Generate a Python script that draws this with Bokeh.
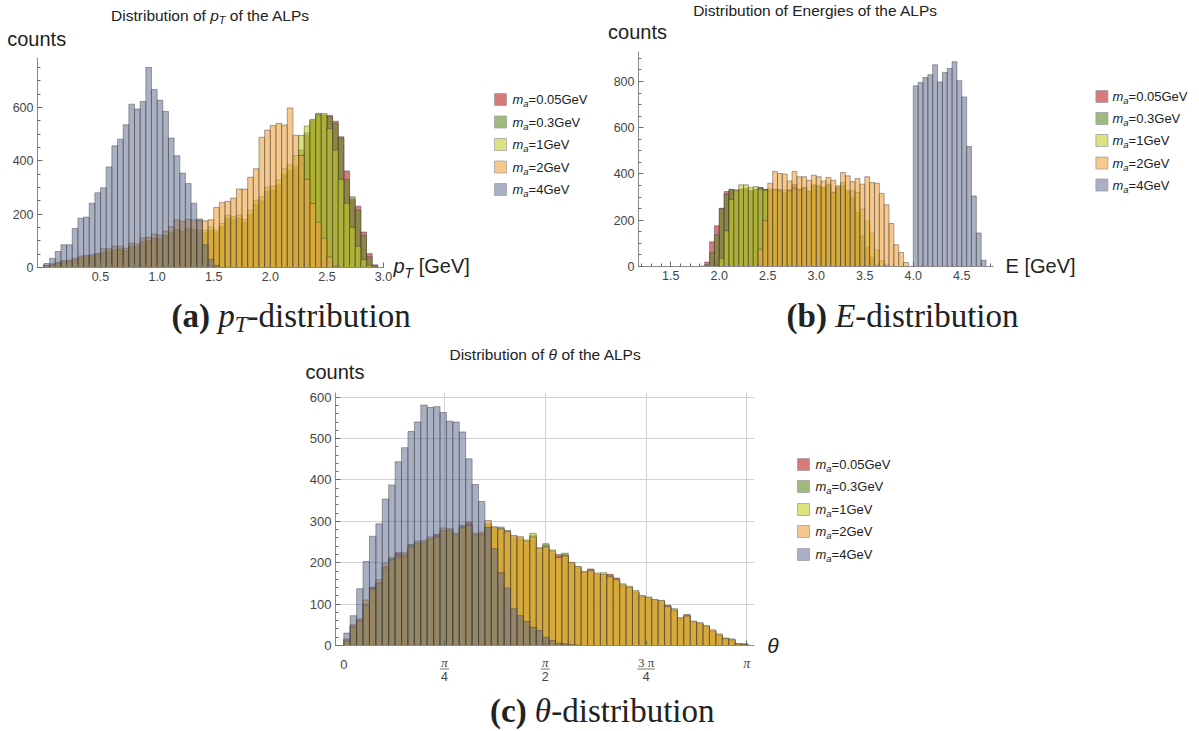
import numpy as np
from bokeh.plotting import figure
from bokeh.models import FixedTicker, Range1d, CustomJSTickFormatter, Spacer
from bokeh.core.properties import value
from bokeh.layouts import column, row
from bokeh.embed import file_html
from bokeh.resources import INLINE

SANS = "Liberation Sans"
SERIF = "Liberation Serif"
INK = "#222222"
TICK_INK = "#444444"

MASSES = ["0.05", "0.3", "1", "2", "4"]
COLORS = ["#BB2121", "#618C26", "#C5CF2B", "#F0A33F", "#556189"]
ALPHAS = [0.6, 0.6, 0.6, 0.6, 0.5]
BIN = 0.05

# ---------------- panel (a): pT, bins of 0.05 from 0 ----------------
A_START = 0.0
A_RED = [4,9,14,19,21,27,33,38,41,46,53,57,62,66,60,77,75,92,97,106,104,116,128,138,133,141,138,135,
         128,138,130,152,182,178,182,168,197,235,245,280,288,305,345,360,372,420,495,548,570,570,570,548,490,362,255,230,133,52,10,0]
A_GREEN = [5,9,15,20,22,27,34,39,42,47,54,58,64,67,61,79,76,94,98,108,106,118,130,140,135,143,140,137,
           130,140,132,155,185,180,186,170,200,238,250,285,290,310,350,365,380,440,505,552,578,572,566,540,485,330,265,215,120,40,6,0]
A_YELLOW = [6,10,16,21,23,29,36,41,43,49,56,61,66,70,63,81,79,96,101,111,109,121,132,142,137,146,142,140,
            140,152,140,165,196,190,196,180,214,252,265,302,305,328,370,385,420,495,530,555,572,577,520,440,330,240,150,80,30,8,0,0]
A_ORANGE = [8,14,20,26,27,34,43,46,48,53,70,70,80,80,72,91,88,111,113,125,121,136,153,178,173,180,178,176,
            175,179,225,244,248,260,294,294,338,370,488,515,532,540,534,598,496,420,330,240,170,110,40,5,0,0,0,0,0,0,0,0]
A_GRAY = [15,34,60,85,85,146,185,189,241,280,299,377,456,481,535,612,594,622,750,667,627,585,485,419,354,315,241,182,
          85,31,8] + [0] * 29

# ---------------- panel (b): E, bins of 0.05 from 1.80 ----------------
B_START = 1.80
B_RED = [2,19,107,176,252,324,333,330,332,338,325,335,340,332,330,335,328,320,332,355,330,340,325,350,345,340,352,322,340,350,
         325,300,236,133,80,38,8] + [0] * 22
B_GREEN = [0,8,61,137,250,313,334,326,335,330,330,328,342,334,325,330,333,315,328,340,335,338,322,345,348,338,350,318,336,345,
           322,290,230,128,84,40,10] + [0] * 22
B_YELLOW = [0,0,0,5,36,154,290,330,353,353,342,346,335,330,335,332,325,330,326,335,330,342,327,353,349,342,356,320,342,363,
            330,327,320,248,197,143,71,25,7] + [0] * 20
B_ORANGE = [0] * 12 + [75,198,360,411,402,400,370,411,388,388,373,395,388,370,385,373,349,406,392,367,
                       380,356,388,363,360,316,267,186,94,61,17] + [0] * 16
B_GRAY = [0] * 44 + [781,796,817,829,872,798,839,856,885,803,733,519,305,145,27]

# ---------------- panel (c): theta, bins of 0.05 from 0 ----------------
C_START = 0.0
C_RED = [14,48,62,100,141,152,190,205,224,218,236,244,246,255,268,275,276,262,282,298,265,270,290,280,275,268,258,255,245,255,226,
         232,220,220,214,196,186,174,185,168,168,172,163,142,138,128,116,112,106,104,97,84,64,75,56,52,46,34,25,15,12,4,4]
C_GREEN = [12,46,60,98,136,150,188,212,215,220,244,248,250,258,262,278,280,268,290,290,268,268,292,282,286,278,260,256,248,266,232,
           246,224,201,223,198,188,176,178,170,170,165,156,143,140,128,118,114,108,106,92,85,62,70,54,50,44,34,24,15,12,3,2]
C_YELLOW = [10,44,58,96,134,148,186,204,212,214,238,246,248,256,260,276,278,266,284,288,266,266,296,285,280,272,264,260,255,271,236,
            240,231,214,218,200,190,178,180,172,176,168,158,149,140,130,119,116,110,108,94,89,66,70,58,54,47,35,26,18,16,4,2]
C_ORANGE = [16,50,64,110,138,159,199,208,218,224,240,252,254,262,264,284,282,271,286,292,271,274,302,287,282,276,266,263,252,262,235,
            238,228,212,216,201,191,178,182,175,172,166,160,146,143,133,121,117,111,109,95,86,67,72,59,55,48,38,28,17,14,4,3]
C_GRAY = [30,72,137,203,264,294,354,388,444,478,517,540,581,575,577,563,542,540,516,451,389,348,285,234,176,139,89,72,58,44,
          36,20,12,6,4,2,1] + [0] * 26

A_XTICKS = [0.5, 1.0, 1.5, 2.0, 2.5, 3.0]
A_YTICKS = [0, 200, 400, 600]
B_XTICKS = [1.5, 2.0, 2.5, 3.0, 3.5, 4.0, 4.5]
B_YTICKS = [0, 200, 400, 600, 800]
C_XTICKS = [0, np.pi / 4, np.pi / 2, 3 * np.pi / 4, np.pi]
C_XNUM = ["0", "π", "π", "3 π", "π"]
C_XDEN = ["", "4", "2", "4", ""]
C_YTICKS = [0, 100, 200, 300, 400, 500, 600]

ARIAL = {' ': 278, '(': 333, ')': 333, '[': 278, ']': 278, '=': 584, '.': 278, '-': 333,
         'A': 667, 'D': 722, 'E': 667, 'G': 778, 'L': 556, 'P': 667, 'T': 611, 'V': 667,
         'a': 556, 'b': 556, 'c': 500, 'd': 556, 'e': 556, 'f': 278, 'g': 556, 'h': 556, 'i': 222,
         'm': 833, 'n': 556, 'o': 556, 'p': 556, 'r': 333, 's': 500, 't': 278, 'u': 556, 'θ': 556, 'π': 556}
TIMES = {' ': 250, '(': 333, ')': 333, 'a': 500, 'b': 556, 'c': 444, '-': 333, 'd': 500, 'i': 278, 's': 389,
         't': 278, 'r': 333, 'u': 500, 'o': 500, 'n': 500, 'p': 500, 'T': 556, 'E': 611, 'θ': 500}


def text_w(t, size, table):
    return sum(table.get(ch, 556) for ch in t) * size / 1000.0


def put_text(p, x, base, s, size, style="normal", font=SANS, color=INK, align="left"):
    # placed by the middle of the font box, which sits about 0.34 em above the baseline
    p.text(x=[x], y=[base - 0.34 * size], text=[s], text_font=value(font), text_font_size=value(f"{size}px"),
           text_font_style=value(style), text_color=color, text_align=value(align),
           text_baseline=value("middle"))


def rich(p, x0, base, pieces, font, table, center=False, color=INK):
    widths = [text_w(t, sz, table) for t, sz, st, dy in pieces]
    x = x0 - sum(widths) / 2 if center else x0
    for (t, sz, st, dy), w in zip(pieces, widths):
        lead = len(t) - len(t.lstrip())
        s = t.strip()
        if s:
            put_text(p, x + lead * table[' '] * sz / 1000.0, base + dy, s, sz, st, font, color)
        x += w


def text_fig(w, h, x0, y0):
    """A blank canvas whose data units are the page's pixels (x to the right, y downwards)."""
    p = figure(width=w, height=h, x_range=Range1d(x0, x0 + w), y_range=Range1d(y0 + h, y0),
               output_backend="svg", toolbar_location=None, title=None, min_border=0,
               x_axis_location=None, y_axis_location=None, frame_align=False)
    p.grid.visible = False
    p.outline_line_color = None
    p.background_fill_color = "white"
    p.border_fill_color = "white"
    return p


def hist_fig(w, h, bl, br, bt, bb, xr, yr, tick_size="12.5px"):
    p = figure(width=w, height=h, x_range=Range1d(*xr), y_range=Range1d(*yr), title=None,
               output_backend="svg", toolbar_location=None, frame_align=False,
               min_border_left=bl, min_border_right=br, min_border_top=bt, min_border_bottom=bb)
    p.outline_line_color = None
    p.background_fill_color = "white"
    p.border_fill_color = "white"
    p.xgrid.visible = False
    p.ygrid.visible = False
    for ax in (p.xaxis[0], p.yaxis[0]):
        ax.axis_line_color = "#8a8a8a"
        ax.major_tick_line_color = "#6a6a6a"
        ax.minor_tick_line_color = "#6a6a6a"
        ax.major_tick_in = 5
        ax.major_tick_out = 0
        ax.minor_tick_in = 3
        ax.minor_tick_out = 0
        ax.major_label_text_font = SANS
        ax.major_label_text_font_size = tick_size
        ax.major_label_text_color = TICK_INK
        ax.major_label_standoff = 4
    return p


def hist(p, start, series):
    for vals, col, al in zip(series, COLORS, ALPHAS):
        lefts = [round(start + BIN * i, 4) for i, v in enumerate(vals) if v > 0]
        tops = [v for v in vals if v > 0]
        rights = [round(l + BIN, 4) for l in lefts]
        p.quad(left=lefts, right=rights, bottom=0, top=tops, fill_color=col, fill_alpha=al,
               line_color="#3a3a3a", line_alpha=0.55, line_width=0.8)


def legend(p, sx, rows, tx):
    for m, col, al, ry in zip(MASSES, COLORS, ALPHAS, rows):
        p.quad(left=[sx], right=[sx + 12], top=[ry - 6], bottom=[ry + 6], fill_color=col, fill_alpha=al,
               line_color="#9a9a9a", line_alpha=0.7, line_width=1)
        rich(p, tx, ry + 4.5, [("m", 13, "italic", 0), ("a", 9.5, "italic", 3),
                               ("=" + m + "GeV", 13, "normal", 0)], SANS, ARIAL)


FMT1 = CustomJSTickFormatter(code="return tick.toFixed(1)")

# ================= panel (a) =================
topA = text_fig(600, 57, 0, 0)
rich(topA, 210, 20, [("Distribution of ", 15.5, "normal", 0), ("p", 15.5, "italic", 0), ("T", 11, "italic", 3),
                     (" of the ALPs", 15.5, "normal", 0)], SANS, ARIAL, center=True)
rich(topA, 6.7, 45, [("counts", 20, "normal", 0)], SANS, ARIAL)

hA = hist_fig(392, 233, 37, 9, 0, 23, (-0.057, 3.0), (0, 787))
hist(hA, A_START, [A_RED, A_GREEN, A_YELLOW, A_ORANGE, A_GRAY])
hA.xaxis[0].ticker = FixedTicker(ticks=A_XTICKS, minor_ticks=[round(0.1 * i, 2) for i in range(0, 31)])
hA.xaxis[0].formatter = FMT1
hA.yaxis[0].ticker = FixedTicker(ticks=A_YTICKS, minor_ticks=list(range(0, 800, 50)))

rA = text_fig(208, 233, 392, 57)
rich(rA, 393, 272.5, [("p", 20, "italic", 0), ("T", 14, "italic", 4.5), (" [GeV]", 20, "normal", 0)], SANS, ARIAL)
legend(rA, 494, [99, 121.5, 144, 166.5, 189], 512)

capA = text_fig(600, 55, 0, 290)
rich(capA, 291.5, 327, [("(a)", 33, "bold", 0), (" p", 33, "italic", 0), ("T", 23, "italic", 5),
                        ("-distribution", 33, "normal", 0)], SERIF, TIMES, center=True)

colA = column(topA, row(hA, rA), capA)

# ================= panel (b) =================
topB = text_fig(599, 51, 600, 0)
rich(topB, 815, 15, [("Distribution of Energies of the ALPs", 15.5, "normal", 0)], SANS, ARIAL, center=True)
rich(topB, 607.6, 38, [("counts", 20, "normal", 0)], SANS, ARIAL)

hB = hist_fig(403, 239, 38, 10, 0, 24, (1.167, 4.827), (0, 929.5))
hist(hB, B_START, [B_RED, B_GREEN, B_YELLOW, B_ORANGE, B_GRAY])
hB.xaxis[0].ticker = FixedTicker(ticks=B_XTICKS, minor_ticks=[round(0.1 * i, 2) for i in range(12, 49)])
hB.xaxis[0].formatter = FMT1
hB.yaxis[0].ticker = FixedTicker(ticks=B_YTICKS, minor_ticks=list(range(0, 950, 50)))

rB = text_fig(196, 239, 1003, 51)
rich(rB, 1005, 272.5, [("E [GeV]", 20, "normal", 0)], SANS, ARIAL)
legend(rB, 1095.4, [96, 118, 140, 162.5, 184.5], 1112)

capB = text_fig(599, 55, 600, 290)
rich(capB, 903, 327, [("(b)", 33, "bold", 0), (" E", 33, "italic", 0), ("-distribution", 33, "normal", 0)],
     SERIF, TIMES, center=True)

colB = column(topB, row(hB, rB), capB)

# ================= panel (c) =================
topC = text_fig(1199, 41, 0, 345)
rich(topC, 545, 359, [("Distribution of ", 15.5, "normal", 0), ("θ", 15.5, "italic", 0),
                      (" of the ALPs", 15.5, "normal", 0)], SANS, ARIAL, center=True)
rich(topC, 305, 378, [("counts", 20, "normal", 0)], SANS, ARIAL)

hC = hist_fig(460, 268, 35, 6, 6, 9, (-0.0647, 3.201), (0, 611.3), tick_size="13px")
hC.xgrid.visible = True
hC.ygrid.visible = True
hC.xgrid[0].ticker = FixedTicker(ticks=C_XTICKS[1:])
hC.ygrid[0].ticker = FixedTicker(ticks=C_YTICKS[1:])
for g in (hC.xgrid[0], hC.ygrid[0]):
    g.grid_line_color = "#d2d2d2"
    g.grid_line_width = 1
hist(hC, C_START, [C_RED, C_GREEN, C_YELLOW, C_ORANGE, C_GRAY])
hC.xaxis[0].ticker = FixedTicker(ticks=C_XTICKS)
hC.xaxis[0].formatter = CustomJSTickFormatter(code="return ''")
hC.xaxis[0].major_label_text_font_size = "0px"
hC.xaxis[0].major_label_standoff = 0
hC.yaxis[0].ticker = FixedTicker(ticks=C_YTICKS, minor_ticks=list(range(0, 620, 20)))

# tick labels of the theta axis: a strip that shares the histogram's x scale (y in page pixels)
tC = figure(width=460, height=30, x_range=hC.x_range, y_range=Range1d(684, 654), title=None,
            output_backend="svg", toolbar_location=None, min_border_left=35, min_border_right=6,
            min_border_top=0, min_border_bottom=0, x_axis_location=None, y_axis_location=None,
            frame_align=False)
tC.grid.visible = False
tC.outline_line_color = None
for tv, num, den in zip(C_XTICKS, C_XNUM, C_XDEN):
    if den:
        put_text(tC, tv, 666, num, 13, "italic" if num == "π" else "normal", SERIF, TICK_INK, "center")
        put_text(tC, tv, 680.5, den, 12.5, "normal", SANS, TICK_INK, "center")
        half = 0.036 if len(num) == 1 else 0.068
        tC.segment(x0=[tv - half], x1=[tv + half], y0=[668.5], y1=[668.5], line_color="#777777", line_width=1)
    else:
        put_text(tC, tv, 668, num, 14 if num == "π" else 13, "italic" if num == "π" else "normal",
                 SERIF if num == "π" else SANS, TICK_INK, "center")

rC = text_fig(439, 298, 760, 386)
rich(rC, 766.7, 652, [("θ", 21, "italic", 0)], SANS, ARIAL)
legend(rC, 797, [464, 486, 509, 531, 554], 815)

capC = text_fig(1199, 47, 0, 684)
rich(capC, 602.7, 722, [("(c)", 33, "bold", 0), (" θ", 33, "italic", 0), ("-distribution", 33, "normal", 0)],
     SERIF, TIMES, center=True)

colC = column(topC, row(Spacer(width=300, height=298), column(hC, tC), rC), capC)

layout = column(row(colA, colB), colC)
open("out.html", "w").write(file_html(layout, INLINE))
